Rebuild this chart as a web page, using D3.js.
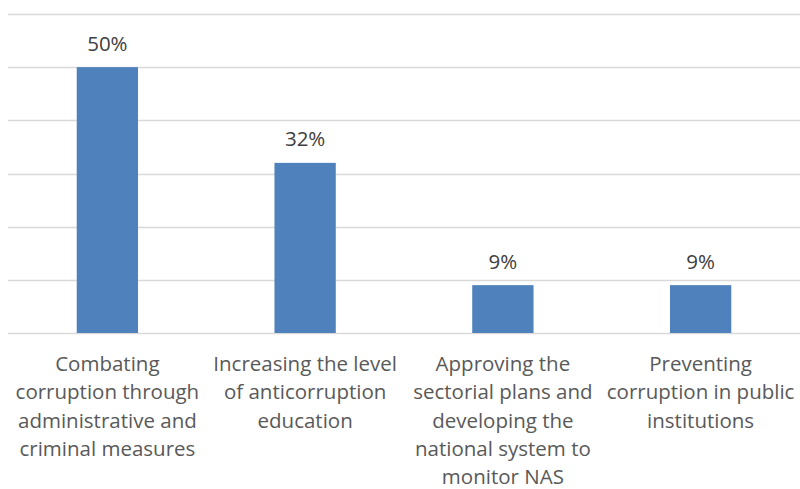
<!DOCTYPE html>
<html><head><meta charset="utf-8">
<script src="https://cdn.jsdelivr.net/npm/d3@7"></script>
<style>body{margin:0;background:#fff}svg{display:block}</style>
</head><body>
<svg id="c" width="800" height="489"></svg>
<script>
const categories = [
  "Combating\ncorruption through\nadministrative and\ncriminal measures",
  "Increasing the level\nof anticorruption\neducation",
  "Approving the\nsectorial plans and\ndeveloping the\nnational system to\nmonitor NAS",
  "Preventing\ncorruption in public\ninstitutions"
];
const values = [0.50, 0.32, 0.09, 0.09];
const valueLabels = ["50%", "32%", "9%", "9%"];
const yTicks = [0, 0.1, 0.2, 0.3, 0.4, 0.5, 0.6];

const svg = d3.select("#c");
const font = "'Open Sans', 'Noto Sans', sans-serif";
const x = d3.scaleBand().domain(categories).range([8.5, 799.5]).paddingInner(0.69).paddingOuter(0.345);
const y = d3.scaleLinear().domain([0, 0.6]).range([333, 14]);

svg.append("g").selectAll("line").data(yTicks).join("line")
  .attr("x1", 8).attr("x2", 800)
  .attr("y1", d => Math.round(y(d)) + 0.5).attr("y2", d => Math.round(y(d)) + 0.5)
  .attr("stroke", "#d9d9d9").attr("stroke-width", 1.5);

svg.append("g").selectAll("rect").data(values).join("rect")
  .attr("x", (d, i) => x(categories[i]))
  .attr("width", x.bandwidth())
  .attr("y", d => y(d))
  .attr("height", d => y(0) - y(d))
  .attr("fill", "#4f81bd");

svg.append("g").selectAll("text").data(values).join("text")
  .attr("x", (d, i) => x(categories[i]) + x.bandwidth() / 2)
  .attr("y", d => y(d) - 16.5)
  .attr("text-anchor", "middle")
  .attr("font-family", font).attr("font-size", 20.5).attr("fill", "#404040")
  .text((d, i) => valueLabels[i]);

const lbl = svg.append("g").selectAll("text").data(categories).join("text")
  .attr("text-anchor", "middle")
  .attr("font-family", font).attr("font-size", 20.5).attr("fill", "#595959");
lbl.each(function(d) {
  const t = d3.select(this);
  const cx = x(d) + x.bandwidth() / 2;
  d.split("\n").forEach((line, j) => {
    t.append("tspan").attr("x", cx).attr("y", 371 + j * 28.3).text(line);
  });
});
</script>
</body></html>
